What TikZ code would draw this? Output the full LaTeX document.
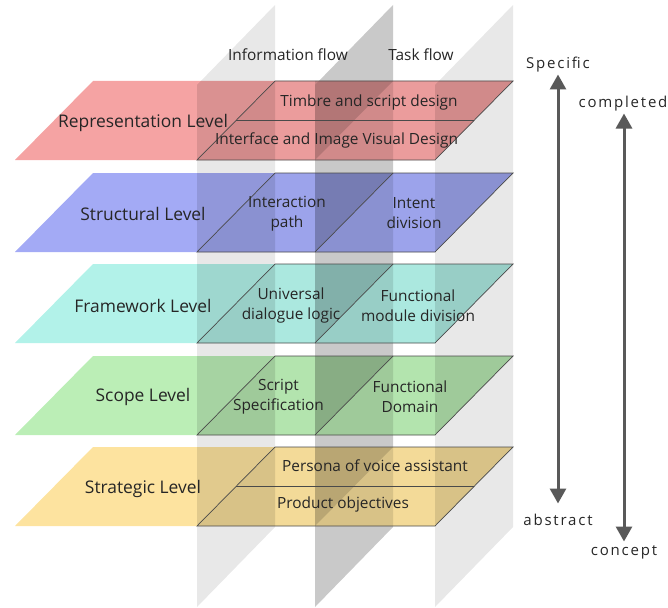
\documentclass[tikz,border=0pt]{standalone}
\usepackage{fontspec}
\setmainfont{Open Sans}
\usetikzlibrary{arrows.meta}

\definecolor{txt}{HTML}{262626}
\definecolor{edgegray}{HTML}{4A4A4A}
\definecolor{axisgray}{HTML}{595959}
\definecolor{repred}{HTML}{F5A3A3}
\definecolor{strblue}{HTML}{A3AAF5}
\definecolor{frmteal}{HTML}{B2F2E9}
\definecolor{scpgreen}{HTML}{BBEEB6}
\definecolor{stratgold}{HTML}{FDE39F}

% vertical "flow" plane whose left edge sits at x = #1
\newcommand\flowplane[1]{(#1,607) -- (#1+78,527) -- (#1+78,5) -- (#1,85) -- cycle}
% horizontal level slab whose top edge sits at y = #1
\newcommand\levelslab[1]{(15,#1+79) -- (435,#1+79) -- (513,#1) -- (93,#1) -- cycle}
% right-hand part of a slab holding the detail texts
\newcommand\detailpart[1]{(197,#1+79) -- (435,#1+79) -- (513,#1) -- (275,#1) -- cycle}

\begin{document}
\begin{tikzpicture}[x=1pt,y=-1pt,
  every node/.style={yshift=-1.5pt},
  levellabel/.style={font=\fontsize{17.4}{20}\selectfont, text=txt},
  detail/.style={font=\fontsize{15.4}{20}\selectfont, text=txt, align=center},
  flowlabel/.style={font=\fontsize{15.4}{18}\selectfont, text=txt},
  axislabel/.style={font=\fontsize{15}{18}\selectfont\addfontfeature{LetterSpace=12}, text=txt},
  edge/.style={draw=edgegray, line width=0.7pt},
  axisarrow/.style={draw=axisgray, line width=3pt,
    {Triangle[width=16pt,length=15pt]}-{Triangle[width=16pt,length=15pt]}}]
\useasboundingbox (0,0) rectangle (668,607);

% vertical planes behind everything
\fill[black,opacity=0.09] \flowplane{197};
\fill[black,opacity=0.21] \flowplane{315};
\fill[black,opacity=0.09] \flowplane{435};

% level slabs, with the planes crossing them
\foreach \t/\c in {81/repred,173/strblue,264/frmteal,356/scpgreen,447/stratgold}{
  \fill[\c] \levelslab{\t};
  \fill[black,opacity=0.04] \detailpart{\t};
  \begin{scope}
    \clip \levelslab{\t};
    \foreach \p in {197,315,435} \fill[black,opacity=0.11] \flowplane{\p};
    \fill[black,opacity=0.14] (315,\t) -- (393,\t) -- (315,\t+79) -- cycle;
  \end{scope}
  \draw[edge] \detailpart{\t};
}

% split lines inside the detail parts
\draw[edge] (236,120.5) -- (474,120.5);
\draw[edge] (315,252) -- (393,173);
\draw[edge] (315,343) -- (393,264);
\draw[edge] (315,435) -- (393,356);
\draw[edge] (236,486.5) -- (474,486.5);

% level names
\node[levellabel] (rep)   at (143,121) {Representation Level};
\node[levellabel] (struc) at (143,212) {Structural Level};
\node[levellabel] (frame) at (143,304) {Framework Level};
\node[levellabel] (scope) at (143,395) {Scope Level};
\node[levellabel] (strat) at (143,487) {Strategic Level};

% detail texts
\node[detail] (timbre)  at (369,100.5) {Timbre and script design};
\node[detail] (iface)   at (336.5,139) {Interface and Image Visual Design};
\node[detail] (ipath)   at (287,212) {Interaction\\path};
\node[detail] (intent)  at (414,212) {Intent\\division};
\node[detail] (dialog)  at (291,304) {Universal\\dialogue logic};
\node[detail] (module)  at (418,304) {Functional\\module division};
\node[detail] (script)  at (278.5,395) {Script\\Specification};
\node[detail] (domain)  at (410,395) {Functional\\Domain};
\node[detail] (persona) at (375,464.5) {Persona of voice assistant};
\node[detail] (goals)   at (343,503) {Product objectives};

% plane titles
\node[flowlabel] (info) at (288,53) {Information flow};
\node[flowlabel] (task) at (421,53) {Task flow};

% axes on the right
\node[axislabel] (specific)  at (558,63)  {Specific};
\node[axislabel] (abstract)  at (558,518) {abstract};
\node[axislabel] (completed) at (623,102) {completed};
\node[axislabel] (concept)   at (624,551) {concept};
\coordinate (specTip) at (558,73);
\coordinate (absTip)  at (558,502);
\coordinate (compTip) at (624,112);
\coordinate (concTip) at (624,540);
\draw[axisarrow] (absTip) -- (specTip);
\draw[axisarrow] (concTip) -- (compTip);
\end{tikzpicture}
\end{document}
